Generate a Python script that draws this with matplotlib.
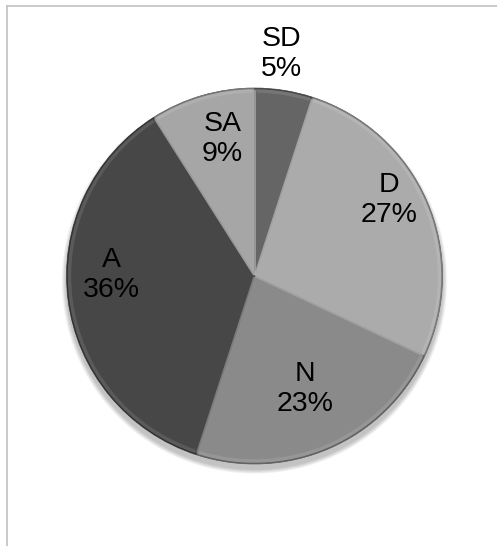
#!usr/bin/python

"""
Likert responses pie chart (SD / D / N / A / SA), grey bevel style
"""

import matplotlib.pyplot as plt
import numpy as np
from matplotlib.lines import Line2D
from matplotlib.patches import Circle, Wedge

categories = ['SD', 'D', 'N', 'A', 'SA']
shares = [5, 27, 23, 36, 9]
slice_colours = ['#656565', '#ababab', '#8a8a8a', '#474747', '#a6a6a6']


def shade(hex_col, factor):
    rgb = np.array([int(hex_col[i:i + 2], 16) for i in (1, 3, 5)]) / 255.0
    if factor >= 0:
        rgb = rgb + (1 - rgb) * factor
    else:
        rgb = rgb * (1 + factor)
    return tuple(np.clip(rgb, 0, 1))


def main():
    plt.rcParams['font.family'] = ['Liberation Sans', 'DejaVu Sans']
    fig = plt.figure(figsize=(4.97, 5.46), dpi=100)
    fig.patch.set_facecolor('white')
    ax = fig.add_axes([0, 0, 1, 1])

    cx, cy, rad = 254.5, 270.0, 188.0

    # soft drop shadow, mostly below the pie
    for k in range(1, 9):
        ax.add_patch(Circle((cx, cy - 5), rad + k * 0.6, facecolor='black',
                            edgecolor='none', alpha=0.03, zorder=0))

    wedges, _ = ax.pie(
        shares, colors=slice_colours, startangle=90, counterclock=False,
        center=(cx, cy), radius=rad, frame=True,
        wedgeprops={'edgecolor': '#5a5a5a', 'linewidth': 0.5},
    )
    ax.set_xlim(0, 497)
    ax.set_ylim(0, 546)
    ax.set_aspect('equal')
    ax.axis('off')

    # fake bevel: lighter rim inside each slice plus a thin darker outer edge
    for wedge, colour in zip(wedges, slice_colours):
        t1, t2 = wedge.theta1, wedge.theta2
        ax.add_patch(Wedge((cx, cy), rad - 1.2, t1 + 0.6, t2 - 0.6, width=3.5,
                           facecolor=shade(colour, 0.15), edgecolor='none',
                           alpha=0.7, zorder=3))
        ax.add_patch(Wedge((cx, cy), rad, t1, t2, width=1.2,
                           facecolor=shade(colour, -0.3), edgecolor='none',
                           zorder=3))
        for ang in (t1, t2):
            a = np.radians(ang)
            ax.plot([cx + 2 * np.cos(a), cx + (rad - 3) * np.cos(a)],
                    [cy + 2 * np.sin(a), cy + (rad - 3) * np.sin(a)],
                    color=shade(colour, 0.25), lw=1.2, alpha=0.55, zorder=3)

    # labels: name + percent, nudged like the spreadsheet's best-fit placement
    label_dist = [1.19, 0.82, 0.66, 0.76, 0.75]
    label_nudge = [2.0, 6.0, 0.5, -7.5, -3.0]
    for wedge, name, val, dist, nudge in zip(wedges, categories, shares,
                                             label_dist, label_nudge):
        mid = np.radians((wedge.theta1 + wedge.theta2) / 2 + nudge)
        ax.text(cx + dist * rad * np.cos(mid), cy + dist * rad * np.sin(mid),
                f'{name}\n{val}%', ha='center', va='center', fontsize=20.5,
                color='black', linespacing=1.2, zorder=5)

    # chart area border (left and top edges visible)
    fig.add_artist(Line2D([6.5 / 497, 6.5 / 497], [0, 1 - 5.5 / 546],
                          color='#c6c6c6', lw=1.3, transform=fig.transFigure))
    fig.add_artist(Line2D([6.5 / 497, 1], [1 - 5.5 / 546, 1 - 5.5 / 546],
                          color='#c6c6c6', lw=1.3, transform=fig.transFigure))

    fig.savefig('out.png', dpi=100, facecolor='white')


if __name__ == '__main__':
    main()
